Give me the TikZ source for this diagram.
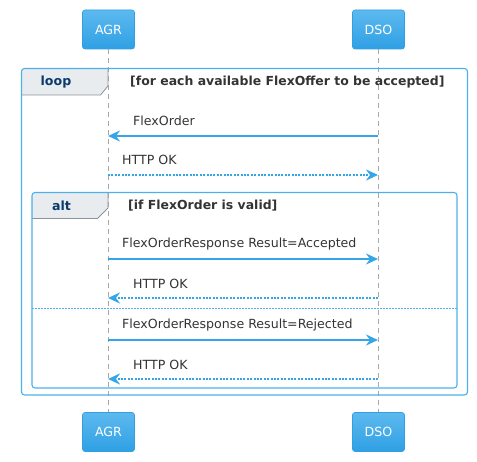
\documentclass[tikz,border=0pt]{standalone}
\usepackage{fontspec}
\setmainfont{DejaVu Sans}
\usetikzlibrary{arrows.meta}
\definecolor{pblue}{HTML}{34A6E8}
\definecolor{ptop}{HTML}{5DB9EF}
\definecolor{pbot}{HTML}{2FA0E4}
\definecolor{fblue}{HTML}{4DB0EA}
\definecolor{tabgray}{HTML}{E9ECEF}
\definecolor{tabline}{HTML}{8C939B}
\definecolor{navy}{HTML}{0B3A6E}
\definecolor{txt}{HTML}{333333}
\definecolor{life}{HTML}{A8A8A8}
\tikzset{
  part/.style={rounded corners=2.5pt, top color=ptop, bottom color=pbot, draw=pbot, line width=0.6pt,
    minimum width=52pt, minimum height=39pt, text=white, font=\fontsize{12.6}{15}\selectfont, inner sep=0pt},
  lifeline/.style={draw=life, line width=0.8pt, dash pattern=on 5pt off 4pt},
  frame/.style={draw=fblue, line width=1.1pt, rounded corners=3pt},
  tab/.style={fill=tabgray, draw=tabline, line width=0.8pt},
  tablabel/.style={font=\fontsize{12.6}{15}\selectfont\bfseries, text=navy, inner sep=0pt},
  guard/.style={font=\fontsize{12.45}{15}\selectfont\bfseries, text=txt, anchor=west, inner sep=0pt},
  msg/.style={font=\fontsize{12.6}{15}\selectfont, text=txt, anchor=west, inner sep=0pt},
  sync/.style={draw=pblue, line width=2.2pt, -{Stealth[length=12pt,width=11pt,inset=4pt]}},
  reply/.style={draw=pblue, line width=2.2pt, dash pattern=on 2pt off 1.4pt, -{Stealth[length=12pt,width=11pt,inset=4pt]}},
  divider/.style={draw=fblue, line width=0.7pt, dash pattern=on 1.5pt off 1.5pt}
}
\begin{document}
\begin{tikzpicture}[x=1pt,y=-1pt]
\useasboundingbox (0,0) rectangle (477,462);
% participants
\node[part] (agr) at (108.5,29.5) {AGR};
\node[part] (dso) at (378.5,29.5) {DSO};
\node[part] (agrb) at (108.5,432) {AGR};
\node[part] (dsob) at (378.5,432) {DSO};
% lifelines
\draw[lifeline] (agr.south) -- (agrb.north);
\draw[lifeline] (dso.south) -- (dsob.north);
% loop frame
\fill[tabgray] (24,68.5) -- (108,68.5) -- (108,86) -- (100.5,95) -- (21.5,95) -- (21.5,71) -- cycle;
\draw[tabline, line width=0.8pt] (108,68.5) -- (108,86) -- (100.5,95) -- (21.5,95);
\draw[frame] (21.5,68.5) rectangle (467.5,395);
\node[tablabel] (looplbl) at (56,82) {loop};
\node[guard] (loopg) at (130,82) {[for each available FlexOffer to be accepted]};
% messages in loop
\coordinate (a1) at (108,136); \coordinate (d1) at (378,136);
\draw[sync] (d1) -- (a1);
\node[msg] (m1) at (133,121) {FlexOrder};
\coordinate (a2) at (108,175); \coordinate (d2) at (378,175);
\draw[reply] (a2) -- (d2);
\node[msg] (m2) at (122,160) {HTTP OK};
% alt frame
\fill[tabgray] (34.5,192.5) -- (108,192.5) -- (108,208) -- (97.5,218.5) -- (32,218.5) -- (32,195) -- cycle;
\draw[tabline, line width=0.8pt] (108,192.5) -- (108,208) -- (97.5,218.5) -- (32,218.5);
\draw[frame] (32,192.5) rectangle (457,388);
\node[tablabel] (altlbl) at (61.5,205.5) {alt};
\node[guard] (altg) at (128,206) {[if FlexOrder is valid]};
% alt messages
\coordinate (a3) at (108,259); \coordinate (d3) at (378,259);
\draw[sync] (a3) -- (d3);
\node[msg] (m3) at (122,244) {FlexOrderResponse Result=Accepted};
\coordinate (a4) at (108,298); \coordinate (d4) at (378,298);
\draw[reply] (d4) -- (a4);
\node[msg] (m4) at (133,283.5) {HTTP OK};
% divider
\coordinate (dv1) at (32,308); \coordinate (dv2) at (457,308);
\draw[divider] (dv1) -- (dv2);
\coordinate (a5) at (108,340); \coordinate (d5) at (378,340);
\draw[sync] (a5) -- (d5);
\node[msg] (m5) at (122,325.5) {FlexOrderResponse Result=Rejected};
\coordinate (a6) at (108,379); \coordinate (d6) at (378,379);
\draw[reply] (d6) -- (a6);
\node[msg] (m6) at (133,365) {HTTP OK};
\end{tikzpicture}
\end{document}
